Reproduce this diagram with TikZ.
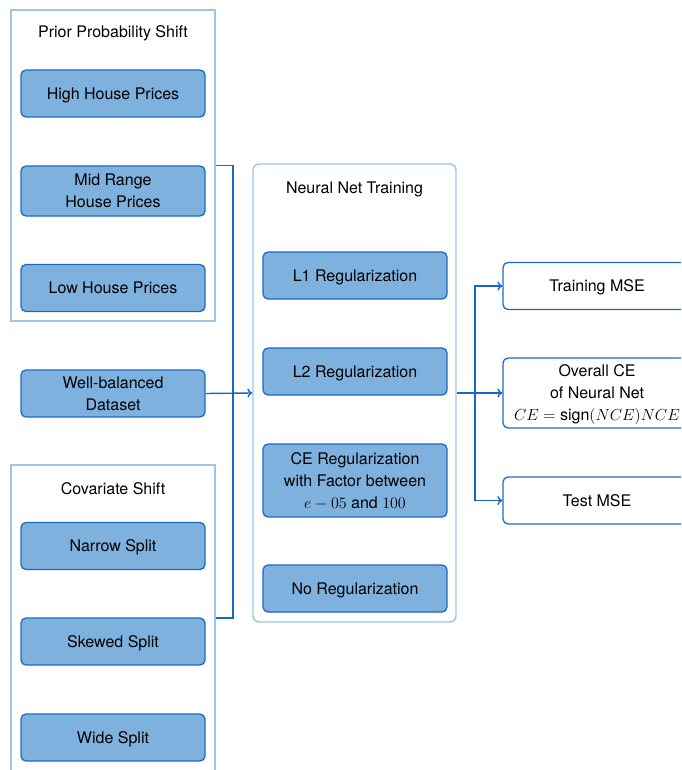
\RequirePackage{fix-cm}
\documentclass[tikz,border=0pt]{standalone}
\usepackage[no-math]{fontspec}
\setmainfont{TeX Gyre Heros}
\usetikzlibrary{arrows.meta}
\definecolor{boxfill}{HTML}{7FB1DE}
\definecolor{boxdraw}{HTML}{1A6BC1}
\definecolor{contdraw}{HTML}{9EC5E8}
\definecolor{conncol}{HTML}{1668C4}
\tikzset{
  every node/.style={font=\fontsize{16}{22}\selectfont, text=black},
  stepbox/.style={draw=boxdraw, fill=boxfill, line width=1.3pt, rounded corners=5pt,
    minimum width=184pt, minimum height=47pt, align=center, inner sep=0pt, text depth=0pt},
  outbox/.style={draw=boxdraw, fill=white, line width=1.3pt, rounded corners=5pt,
    minimum width=188pt, minimum height=47pt, align=center, inner sep=0pt, text depth=0pt},
  container/.style={draw=contdraw, line width=1.4pt, inner sep=0pt},
  conn/.style={draw=conncol, line width=1.4pt},
  arr/.style={conn, -{To[length=5pt,width=9pt]}},
}
\begin{document}
\begin{tikzpicture}[x=1pt,y=-1pt]
\useasboundingbox (0,0) rectangle (681,770);
\clip (0,0) rectangle (681,770);
% containers
\node[container, minimum width=204pt, minimum height=311pt] (prior) at (113,165.5) {};
\node[container, minimum width=204pt, minimum height=306pt] (cov) at (113,618) {};
\node[container, rounded corners=6pt, minimum width=203pt, minimum height=458pt] (nn) at (354.5,393) {};
\node (priort) at (113,33) {Prior Probability Shift};
\node (covt) at (113,489) {Covariate Shift};
\node (nnt) at (354.5,189) {Neural Net Training};
% left boxes
\node[stepbox] (high) at (113,93.5) {High House Prices};
\node[stepbox, minimum height=50pt] (mid) at (113,191) {Mid Range\\House Prices};
\node[stepbox] (low) at (113,288) {Low House Prices};
\node[stepbox] (wb) at (113,393.5) {Well-balanced\\Dataset};
\node[stepbox] (narrow) at (113,546) {Narrow Split};
\node[stepbox] (skew) at (113,641.5) {Skewed Split};
\node[stepbox] (wide) at (113,737.5) {Wide Split};
% neural net boxes
\node[stepbox] (l1) at (355,275.5) {L1 Regularization};
\node[stepbox] (l2) at (355,371.5) {L2 Regularization};
\node[stepbox, minimum height=73pt] (ce) at (355,480.5) {CE Regularization\\with Factor between\\$e-05$ and $100$};
\node[stepbox] (noreg) at (355,588.5) {No Regularization};
% output boxes
\node[outbox] (train) at (597,286) {Training MSE};
\node[outbox, minimum height=70pt] (overall) at (597,393) {Overall CE\\of Neural Net\\$CE=\mbox{sign}(NCE)NCE$};
\node[outbox] (test) at (597,500.5) {Test MSE};
% connectors
\coordinate (jl) at (233,393);
\coordinate (jr) at (475,393);
\draw[conn] (prior.east) -| (jl) |- (cov.east);
\draw[arr] (wb.east) -- (nn.west);
\draw[conn] (nn.east) -- (jr);
\draw[arr] (jr) |- (train.west);
\draw[arr] (jr) -- (overall.west);
\draw[arr] (jr) |- (test.west);
\end{tikzpicture}
\end{document}
